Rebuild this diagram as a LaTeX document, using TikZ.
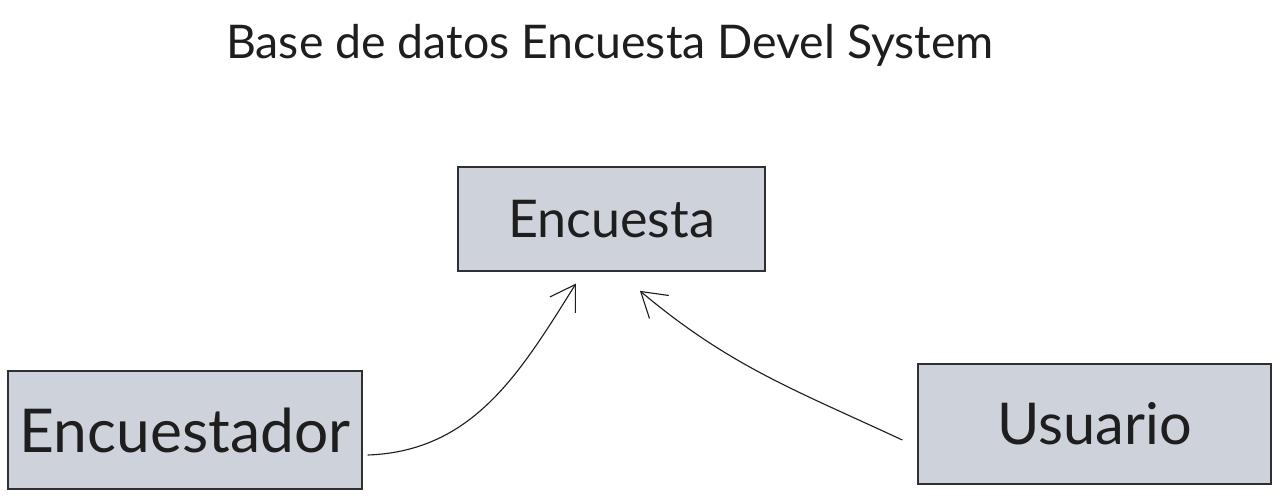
\documentclass[tikz,border=0pt]{standalone}
\usepackage{fontspec}
\setmainfont{Lato}
\usetikzlibrary{arrows.meta}

\begin{document}
\begin{tikzpicture}[
  x=0.025cm, y=-0.025cm,
  entity/.style={rectangle, draw=boxBorder, fill=boxFill, line width=0.9pt,
    align=center, inner sep=0pt},
  link/.style={-{Straight Barb[length=6mm, width=7.5mm, line width=0.8pt]},
    line width=0.8pt, draw=linkColor},
]
\definecolor{boxFill}{HTML}{CED3DB}
\definecolor{boxBorder}{HTML}{2F3033}
\definecolor{linkColor}{HTML}{1E1E1E}
\definecolor{inkText}{HTML}{1E1E1E}
\color{inkText}
\useasboundingbox (0,0) rectangle (1280,499);

% Title of the diagram
\node[font=\fontsize{33}{40}\selectfont] (title) at (610,45)
  {Base de datos Encuesta Devel System};

% Three entities
\node[entity, minimum width=7.675cm, minimum height=2.6cm,
  font=\fontsize{37}{44}\selectfont] (encuesta) at (611.5,219) {Encuesta};
\node[entity, minimum width=8.85cm, minimum height=2.95cm,
  font=\fontsize{43}{50}\selectfont] (encuestador) at (185,430) {Encuestador};
\node[entity, minimum width=8.825cm, minimum height=3.0cm,
  font=\fontsize{41}{48}\selectfont] (usuario) at (1094.5,424) {Usuario};

% Both connect up to the survey
\draw[link] ([xshift=0.125cm, yshift=-0.625cm]encuestador.east)
  to[out=2, in=238] ([xshift=-0.89cm, yshift=-0.3cm]encuesta.south);
\draw[link] ([xshift=-0.375cm, yshift=-0.4cm]usuario.west)
  to[out=155, in=320] ([xshift=0.71cm, yshift=-0.48cm]encuesta.south);
\end{tikzpicture}
\end{document}
